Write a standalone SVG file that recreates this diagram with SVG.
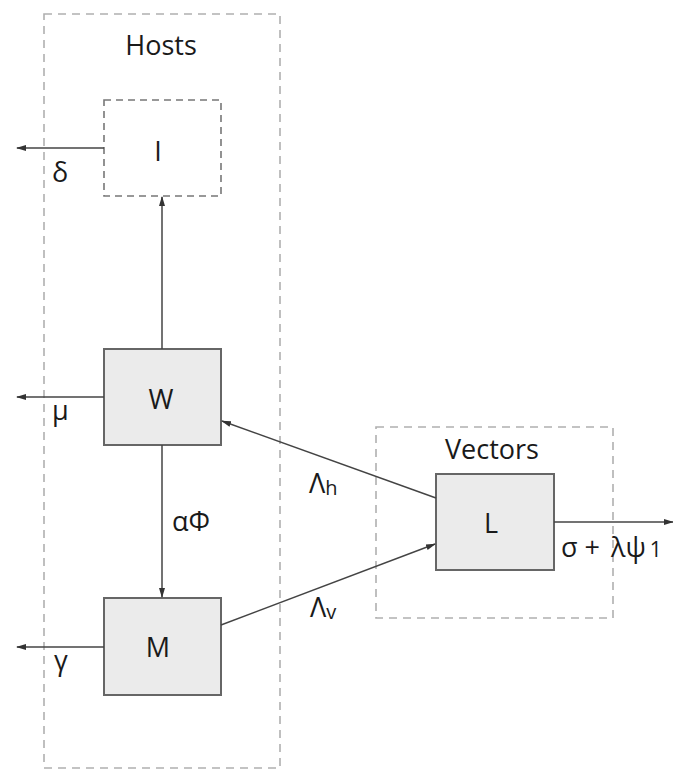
<svg xmlns="http://www.w3.org/2000/svg" width="673" height="778" viewBox="0 0 673 778">
<style>
.grp{fill:none;stroke:#b0b0b0;stroke-width:1.6;stroke-dasharray:8 6}
.ibox{fill:#fff;stroke:#777;stroke-width:1.6;stroke-dasharray:7 5}
.box{fill:#ebebeb;stroke:#666;stroke-width:2}
.ln{fill:none;stroke:#444;stroke-width:1.5}
text{font-family:"Open Sans","DejaVu Sans",sans-serif;font-size:27px;fill:#1a1a1a}
.c{text-anchor:middle}
</style>
<defs>
<marker id="ah" markerWidth="10" markerHeight="8" refX="9" refY="4" orient="auto" markerUnits="userSpaceOnUse">
<path d="M0,1 L10,4 L0,7 z" fill="#333"/>
</marker>
</defs>
<g id="hosts"><rect class="grp" x="44" y="14" width="236" height="754"/><text class="c" x="161" y="55">Hosts</text></g>
<g id="vectors"><rect class="grp" x="376" y="427" width="237" height="191"/><text class="c" x="492" y="459">Vectors</text></g>
<g id="I"><rect class="ibox" x="104" y="100" width="117" height="96"/><text class="c" x="158" y="161">I</text></g>
<g id="W"><rect class="box" x="104" y="349" width="117" height="96"/><text class="c" x="161" y="409">W</text></g>
<g id="M"><rect class="box" x="104" y="598" width="117" height="97"/><text class="c" x="158" y="657">M</text></g>
<g id="L"><rect class="box" x="436" y="474" width="118" height="96"/><text class="c" x="491" y="533">L</text></g>
<g id="connectors">
<line class="ln" x1="104" y1="148" x2="17" y2="148" marker-end="url(#ah)"/>
<line class="ln" x1="104" y1="397" x2="17" y2="397" marker-end="url(#ah)"/>
<line class="ln" x1="104" y1="647" x2="17" y2="647" marker-end="url(#ah)"/>
<line class="ln" x1="162" y1="349" x2="162" y2="197" marker-end="url(#ah)"/>
<line class="ln" x1="162" y1="445" x2="162" y2="597" marker-end="url(#ah)"/>
<line class="ln" x1="436" y1="498" x2="222" y2="421" marker-end="url(#ah)"/>
<line class="ln" x1="221" y1="625" x2="435" y2="544" marker-end="url(#ah)"/>
<line class="ln" x1="554" y1="522" x2="673" y2="522" marker-end="url(#ah)"/>
<text x="52" y="182">δ</text>
<text x="52" y="420">μ</text>
<text x="54" y="670">γ</text>
<text x="172" y="531">αΦ</text>
<text x="309" y="493">Λ<tspan font-size="20" dy="2">h</tspan></text>
<text x="310" y="617">Λ<tspan font-size="20" dy="2">v</tspan></text>
<text x="561" y="557">σ + <tspan dx="4">λψ</tspan><tspan font-size="21" dx="4">1</tspan></text>
</g>
</svg>
